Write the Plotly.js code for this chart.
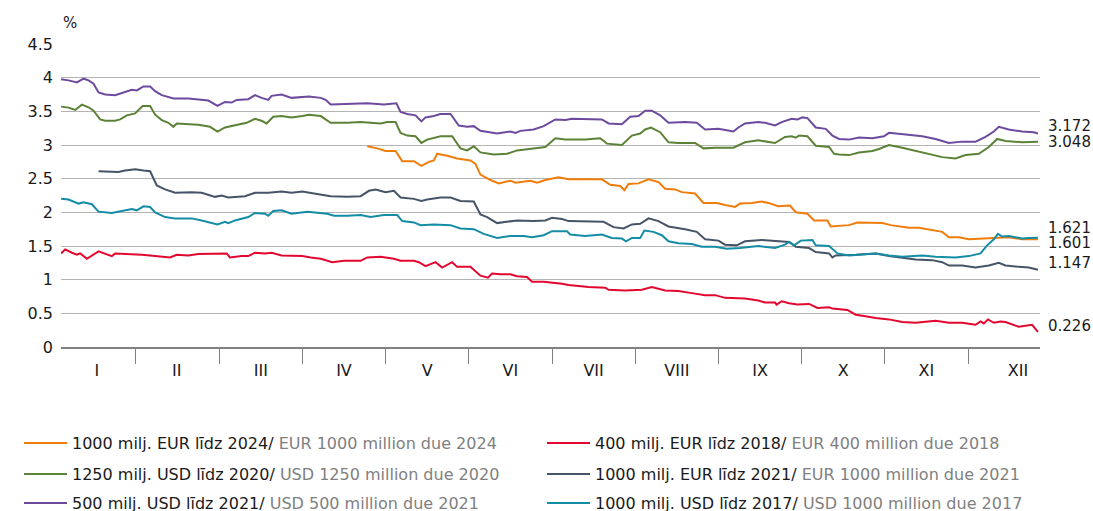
<!DOCTYPE html>
<html>
<head>
<meta charset="utf-8">
<script src="https://cdn.plot.ly/plotly-3.0.1.min.js"></script>
<style>html,body{margin:0;padding:0;background:#fff;}#chart{width:1093px;height:511px;}</style>
</head>
<body>
<div id="chart"></div>
<script>
// x values are positions in months (0 = start of January, 12 = end of December)
const monthLabels = ['I','II','III','IV','V','VI','VII','VIII','IX','X','XI','XII'];
const monthLabelPos = [0.53,1.49,2.5,3.5,4.5,5.5,6.5,7.5,8.5,9.5,10.5,11.6];
const monthBounds = [1,2,3,4,5,6,7,8,9,10,11];
const yTicks = [0,0.5,1,1.5,2,2.5,3,3.5,4,4.5];

const names = [
  '1000 milj. EUR līdz 2024/ <span style="color:#808080">EUR 1000 million due 2024</span>',
  '400 milj. EUR līdz 2018/ <span style="color:#808080">EUR 400 million due 2018</span>',
  '1250 milj. USD līdz 2020/ <span style="color:#808080">USD 1250 million due 2020</span>',
  '1000 milj. EUR līdz 2021/ <span style="color:#808080">EUR 1000 million due 2021</span>',
  '500 milj. USD līdz 2021/ <span style="color:#808080">USD 500 million due 2021</span>',
  '1000 milj. USD līdz 2017/ <span style="color:#808080">USD 1000 million due 2017</span>'
];
const colors = ['#EF7D0B','#E2072F','#5C8238','#465467','#6D4A9D','#148CA5'];

const eur2024X = [3.78,3.90,4.00,4.12,4.20,4.34,4.43,4.52,4.58,4.62,4.74,4.86,5.02,5.08,5.14,5.26,5.36,5.50,5.56,5.74,5.82,5.92,
  6.08,6.20,6.60,6.70,6.82,6.87,6.92,7.04,7.16,7.28,7.36,7.48,7.56,7.72,7.82,7.98,8.08,8.20,8.26,8.40,8.52,8.60,8.72,8.86,
  8.93,9.07,9.15,9.31,9.35,9.57,9.67,9.97,10.07,10.29,10.41,10.53,10.69,10.77,10.89,11.01,11.17,11.33,11.49,11.65,11.84];
const eur2024Y = [2.98,2.95,2.91,2.91,2.76,2.76,2.69,2.75,2.77,2.87,2.84,2.80,2.77,2.72,2.56,2.48,2.43,2.47,2.44,2.47,2.44,2.48,
  2.52,2.49,2.49,2.41,2.39,2.33,2.42,2.43,2.49,2.45,2.35,2.34,2.30,2.28,2.14,2.14,2.11,2.08,2.13,2.14,2.16,2.14,2.09,2.10,
  2.00,1.98,1.88,1.88,1.79,1.81,1.85,1.84,1.81,1.77,1.77,1.74,1.71,1.63,1.63,1.60,1.61,1.63,1.63,1.60,1.601];

const eur2018X = [0.10,0.15,0.23,0.29,0.33,0.41,0.55,0.63,0.71,0.75,0.95,1.07,1.23,1.41,1.49,1.63,1.75,1.95,2.09,2.13,2.27,2.35,2.43,2.55,2.63,2.75,2.91,3.00,
  3.10,3.22,3.36,3.50,3.70,3.78,3.94,4.10,4.18,4.34,4.40,4.48,4.60,4.68,4.80,4.86,5.02,5.14,5.23,5.28,5.38,5.50,5.58,5.70,5.76,5.90,
  6.12,6.20,6.44,6.64,6.68,6.88,7.08,7.20,7.36,7.52,7.68,7.84,7.96,8.08,8.32,8.48,8.56,8.68,8.70,8.76,8.85,
  8.95,9.09,9.19,9.33,9.37,9.55,9.65,9.75,9.89,10.05,10.21,10.37,10.61,10.77,10.93,11.09,11.15,11.19,11.24,11.31,11.39,11.45,11.61,11.77,11.84];
const eur2018Y = [1.39,1.45,1.40,1.37,1.39,1.31,1.42,1.39,1.35,1.39,1.38,1.37,1.35,1.33,1.37,1.36,1.38,1.38,1.39,1.33,1.35,1.35,1.40,1.39,1.40,1.36,1.35,1.35,
  1.33,1.31,1.26,1.28,1.28,1.33,1.34,1.31,1.28,1.28,1.26,1.20,1.26,1.18,1.26,1.19,1.19,1.06,1.03,1.09,1.08,1.08,1.05,1.04,0.97,0.97,
  0.94,0.92,0.89,0.88,0.85,0.84,0.85,0.89,0.84,0.83,0.80,0.77,0.77,0.73,0.72,0.69,0.66,0.66,0.63,0.68,0.65,
  0.63,0.64,0.58,0.59,0.57,0.55,0.48,0.46,0.43,0.41,0.37,0.36,0.39,0.36,0.36,0.33,0.38,0.35,0.41,0.36,0.38,0.37,0.30,0.33,0.226];

const usd2020X = [0.10,0.19,0.27,0.35,0.43,0.49,0.57,0.63,0.75,0.81,0.89,0.99,1.08,1.17,1.23,1.31,1.39,1.45,1.49,1.63,1.75,1.89,1.98,2.07,2.19,2.33,2.43,2.51,2.57,2.65,2.75,2.87,3.00,
  3.08,3.22,3.34,3.54,3.70,3.94,4.02,4.12,4.18,4.26,4.36,4.43,4.50,4.66,4.80,4.90,4.98,5.06,5.14,5.30,5.46,5.58,5.78,5.92,
  6.04,6.16,6.40,6.58,6.66,6.84,6.96,7.06,7.12,7.19,7.30,7.40,7.52,7.72,7.82,7.96,8.18,8.32,8.48,8.68,8.80,8.88,
  8.93,8.97,9.07,9.17,9.33,9.39,9.45,9.57,9.69,9.85,9.93,10.05,10.21,10.37,10.53,10.69,10.85,10.97,11.13,11.25,11.35,11.45,11.65,11.84];
const usd2020Y = [3.57,3.555,3.52,3.60,3.56,3.51,3.38,3.36,3.36,3.38,3.44,3.47,3.58,3.58,3.45,3.37,3.33,3.27,3.32,3.31,3.30,3.27,3.20,3.26,3.29,3.33,3.39,3.36,3.32,3.42,3.43,3.41,3.43,
  3.45,3.43,3.33,3.33,3.34,3.32,3.34,3.34,3.18,3.14,3.13,3.03,3.08,3.13,3.13,2.95,2.92,2.98,2.89,2.86,2.87,2.92,2.95,2.97,
  3.10,3.08,3.08,3.10,3.02,3.00,3.14,3.17,3.23,3.26,3.19,3.04,3.03,3.03,2.95,2.96,2.96,3.04,3.07,3.03,3.12,3.13,
  3.11,3.14,3.13,2.99,2.97,2.87,2.86,2.85,2.89,2.91,2.94,3.00,2.96,2.91,2.87,2.82,2.80,2.85,2.87,2.97,3.09,3.06,3.04,3.048];

const eur2021X = [0.55,0.79,0.87,0.99,1.09,1.17,1.25,1.35,1.47,1.67,1.79,1.95,2.03,2.11,2.31,2.43,2.59,2.75,2.87,3.00,
  3.14,3.34,3.54,3.70,3.80,3.88,4.00,4.10,4.18,4.34,4.43,4.50,4.66,4.78,4.90,5.06,5.14,5.22,5.34,5.50,5.58,5.78,5.92,
  6.00,6.12,6.20,6.62,6.74,6.86,6.96,7.06,7.16,7.28,7.40,7.52,7.60,7.74,7.84,8.00,8.08,8.22,8.32,8.52,8.72,8.85,
  8.93,9.09,9.17,9.33,9.37,9.41,9.65,9.89,10.05,10.21,10.37,10.57,10.69,10.77,10.93,11.09,11.25,11.37,11.45,11.61,11.73,11.84];
const eur2021Y = [2.61,2.60,2.62,2.64,2.62,2.61,2.40,2.34,2.29,2.30,2.29,2.23,2.25,2.22,2.24,2.29,2.29,2.31,2.29,2.31,
  2.28,2.24,2.23,2.24,2.32,2.34,2.30,2.32,2.22,2.20,2.17,2.19,2.22,2.22,2.17,2.16,1.97,1.93,1.84,1.87,1.88,1.87,1.88,
  1.92,1.90,1.87,1.86,1.78,1.76,1.82,1.83,1.91,1.87,1.79,1.77,1.75,1.71,1.60,1.58,1.52,1.51,1.57,1.59,1.57,1.56,
  1.49,1.47,1.41,1.39,1.33,1.36,1.37,1.39,1.35,1.33,1.30,1.29,1.26,1.21,1.21,1.18,1.21,1.25,1.21,1.19,1.18,1.147];

const usd2021X = [0.10,0.19,0.29,0.37,0.43,0.49,0.55,0.63,0.75,0.83,0.95,1.01,1.09,1.17,1.23,1.31,1.45,1.63,1.75,1.87,1.98,2.07,2.15,2.21,2.35,2.43,2.51,2.59,2.63,2.75,2.87,3.00,
  3.08,3.22,3.28,3.34,3.54,3.78,3.90,3.98,4.13,4.18,4.26,4.36,4.43,4.48,4.58,4.66,4.78,4.88,4.98,5.06,5.14,5.26,5.34,5.50,5.56,5.62,5.78,5.90,
  6.04,6.16,6.24,6.60,6.68,6.84,6.94,7.04,7.12,7.20,7.30,7.40,7.60,7.74,7.84,8.00,8.18,8.24,8.32,8.48,8.56,8.68,8.76,8.88,
  8.95,9.01,9.07,9.17,9.29,9.37,9.45,9.57,9.69,9.85,9.99,10.05,10.21,10.33,10.45,10.61,10.77,10.93,11.09,11.21,11.31,11.37,11.49,11.65,11.79,11.84];
const usd2021Y = [3.975,3.96,3.93,3.985,3.96,3.91,3.78,3.75,3.74,3.77,3.82,3.81,3.87,3.87,3.80,3.74,3.69,3.69,3.68,3.66,3.58,3.64,3.63,3.67,3.68,3.74,3.70,3.67,3.73,3.75,3.70,3.71,
  3.72,3.70,3.67,3.60,3.61,3.62,3.61,3.60,3.62,3.49,3.46,3.44,3.35,3.41,3.43,3.46,3.46,3.29,3.27,3.28,3.21,3.19,3.17,3.20,3.18,3.21,3.23,3.28,
  3.38,3.37,3.39,3.38,3.32,3.31,3.42,3.43,3.51,3.51,3.44,3.33,3.34,3.33,3.23,3.24,3.20,3.26,3.32,3.34,3.33,3.29,3.34,3.39,
  3.38,3.41,3.40,3.26,3.24,3.14,3.09,3.08,3.11,3.10,3.13,3.18,3.16,3.14,3.13,3.09,3.03,3.05,3.05,3.12,3.20,3.27,3.23,3.20,3.19,3.172];

const usd2017X = [0.10,0.19,0.31,0.37,0.47,0.55,0.71,0.83,0.95,1.01,1.09,1.17,1.23,1.35,1.47,1.67,1.79,1.98,2.07,2.11,2.19,2.35,2.43,2.55,2.59,2.65,2.75,2.87,3.00,
  3.06,3.30,3.38,3.54,3.70,3.82,3.98,4.14,4.20,4.34,4.42,4.58,4.78,4.90,5.06,5.18,5.34,5.50,5.66,5.76,5.90,
  6.00,6.18,6.22,6.40,6.60,6.72,6.84,6.89,6.96,7.06,7.11,7.22,7.32,7.40,7.52,7.68,7.80,7.96,8.10,8.26,8.48,8.68,8.80,8.85,
  8.91,8.99,9.13,9.17,9.33,9.43,9.57,9.73,9.89,10.05,10.21,10.45,10.61,10.85,11.01,11.15,11.23,11.31,11.36,11.41,11.49,11.65,11.73,11.84];
const usd2017Y = [2.20,2.19,2.13,2.15,2.12,2.01,1.99,2.02,2.05,2.03,2.09,2.08,2.00,1.93,1.91,1.91,1.88,1.82,1.86,1.84,1.88,1.93,1.99,1.98,1.95,2.02,2.03,1.98,2.00,
  2.01,1.98,1.95,1.95,1.96,1.93,1.96,1.96,1.87,1.85,1.81,1.82,1.81,1.76,1.75,1.68,1.62,1.65,1.65,1.63,1.66,
  1.72,1.72,1.67,1.65,1.67,1.62,1.61,1.57,1.62,1.62,1.73,1.71,1.66,1.57,1.54,1.53,1.49,1.49,1.46,1.47,1.50,1.47,1.52,1.56,
  1.51,1.58,1.59,1.51,1.50,1.39,1.36,1.37,1.39,1.36,1.34,1.36,1.34,1.33,1.35,1.39,1.51,1.60,1.68,1.64,1.65,1.61,1.62,1.621];

const endLabels = ['1.601','0.226','3.048','1.147','3.172','1.621'];
const endShift = [-4,6,0,7,7,10];

const seriesX = [eur2024X, eur2018X, usd2020X, eur2021X, usd2021X, usd2017X];
const seriesY = [eur2024Y, eur2018Y, usd2020Y, eur2021Y, usd2021Y, usd2017Y];
const legendIds = ['legend','legend2','legend3','legend4','legend5','legend6'];
// legend slots: [left pixel, row centre pixel]
const legendSlots = [[19,443],[542,443],[19,474],[542,474],[19,503],[542,503]];

const FONT = 'DejaVu Sans, Verdana, sans-serif';

const traces = seriesX.map((xs, i) => ({
  type: 'scatter', mode: 'lines', x: xs, y: seriesY[i], name: names[i],
  line: {color: colors[i], width: 2}, legend: legendIds[i], hoverinfo: 'skip'
}));

const annotations = seriesX.map((xs, i) => ({
  x: xs[xs.length - 1], y: seriesY[i][seriesY[i].length - 1], xref: 'x', yref: 'y',
  text: endLabels[i], showarrow: false, xanchor: 'left', yanchor: 'middle',
  xshift: 8, yshift: endShift[i], font: {family: FONT, size: 15, color: '#1a1a1a'}
}));
annotations.push({x: 0, y: 1, xref: 'paper', yref: 'paper', text: '%', showarrow: false,
  xanchor: 'left', yanchor: 'bottom', yshift: 10, xshift: 0, font: {family: FONT, size: 15, color: '#1a1a1a'}});

const layout = {
  width: 1093, height: 511,
  margin: {l: 61, r: 53, t: 44, b: 164, autoexpand: false},
  paper_bgcolor: '#ffffff', plot_bgcolor: '#ffffff',
  font: {family: FONT, size: 15, color: '#1a1a1a'},
  showlegend: true,
  xaxis: {
    range: [0.099, 11.865], tickmode: 'array', tickvals: monthLabelPos, ticktext: monthLabels,
    ticks: 'outside', ticklen: 8, tickcolor: 'rgba(0,0,0,0)', showgrid: false, zeroline: false,
    showline: true, linecolor: '#808080', linewidth: 2,
    tickfont: {family: FONT, size: 16, color: '#1a1a1a'},
    minor: {tickmode: 'array', tickvals: monthBounds, ticks: 'outside', ticklen: 15, tickwidth: 1, tickcolor: '#808080', showgrid: false}
  },
  yaxis: {
    range: [0, 4.5], tickmode: 'array', tickvals: yTicks, ticktext: yTicks.map(String),
    showgrid: true, gridcolor: '#b4b4b4', gridwidth: 1, zeroline: false, showline: false,
    ticks: '', ticklabelstandoff: 7, tickfont: {family: FONT, size: 16, color: '#1a1a1a'}
  },
  annotations: annotations
};
legendIds.forEach((id, i) => {
  layout[id] = {
    orientation: 'v', x: (legendSlots[i][0] - 61) / 979, xanchor: 'left',
    y: (347 - legendSlots[i][1]) / 303, yanchor: 'middle', itemwidth: 43,
    font: {family: FONT, size: 16, color: '#1a1a1a'}, bgcolor: 'rgba(0,0,0,0)'
  };
});

Plotly.newPlot('chart', traces, layout, {displayModeBar: false, staticPlot: true});
</script>
</body>
</html>
